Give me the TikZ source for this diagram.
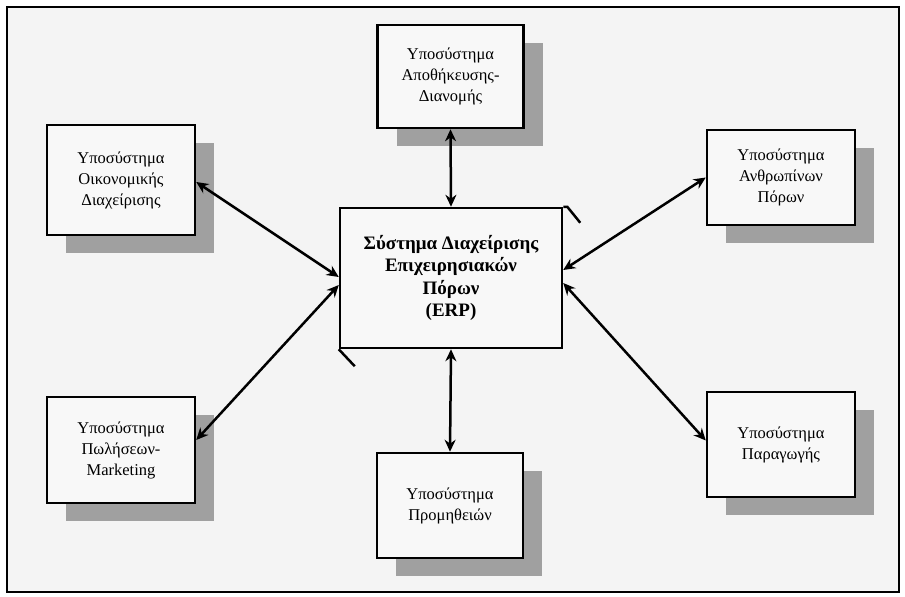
\documentclass[tikz,border=0pt]{standalone}
\usepackage{fontspec}
\setmainfont{Liberation Serif}
\usetikzlibrary{arrows.meta,shadows}
\definecolor{shadowgray}{RGB}{160,160,160}
\definecolor{framebg}{RGB}{244,244,244}
\definecolor{boxbg}{RGB}{248,248,248}
\tikzset{
  subbox/.style={draw=black, line width=2.5pt, fill=boxbg, align=center,
    font=\fontsize{16.5}{21}\selectfont, inner sep=2pt,
    general shadow={fill=shadowgray, shadow xshift=19pt, shadow yshift=-18pt}},
  erpbox/.style={draw=black, line width=2.5pt, fill=boxbg, align=center,
    font=\fontsize{19}{22.5}\selectfont\bfseries, inner sep=2pt},
  link/.style={line width=2.5pt, {Stealth[length=12pt,width=11pt]}-{Stealth[length=12pt,width=11pt]}},
  stub/.style={line width=2.5pt}
}
\begin{document}
\begin{tikzpicture}[x=1pt,y=-1pt]
\useasboundingbox (0,0) rectangle (905,597);
\draw[line width=2.5pt, fill=framebg] (7,7) rectangle (899,592);

\node[subbox, minimum width=146pt, minimum height=103pt] (top) at (450.5,76.5) {Υποσύστημα\\Αποθήκευσης-\\Διανομής};
\node[subbox, minimum width=148pt, minimum height=110pt] (lt) at (121,180) {Υποσύστημα\\Οικονομικής\\Διαχείρισης};
\node[subbox, minimum width=148pt, minimum height=95pt] (rt) at (781,177.5) {Υποσύστημα\\Ανθρωπίνων\\Πόρων};
\node[subbox, minimum width=148pt, minimum height=106pt] (lb) at (121,450) {Υποσύστημα\\Πωλήσεων-\\Marketing};
\node[subbox, minimum width=146pt, minimum height=105pt] (bot) at (450,505.5) {Υποσύστημα\\Προμηθειών};
\node[subbox, minimum width=148pt, minimum height=105pt] (rb) at (781,444.5) {Υποσύστημα\\Παραγωγής};
\node[erpbox, minimum width=222pt, minimum height=140pt] (erp) at (451,278) {Σύστημα Διαχείρισης\\Επιχειρησιακών\\Πόρων\\(ERP)};

\draw[stub] (erp.north east) -- ++(4,0) -- ++(13,16);
\draw[stub] (erp.south west) -- ++(16,17);

\draw[link] (top.south) -- (erp.north);
\draw[link] (erp.south) -- (bot.north);
\draw[link] ([yshift=-2pt]lt.east) -- ([yshift=1pt]erp.west);
\draw[link] ([yshift=10pt]lb.east) -- ([yshift=-7pt]erp.west);
\draw[link] (rt.west) -- ([yshift=8pt]erp.east);
\draw[link] ([yshift=4pt]rb.west) -- ([yshift=-5pt]erp.east);
\end{tikzpicture}
\end{document}
